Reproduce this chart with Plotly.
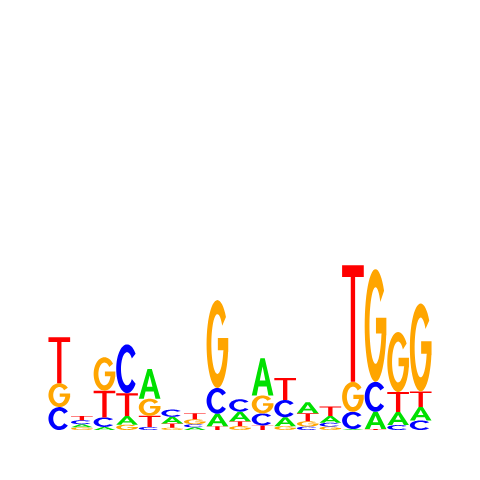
import math
import plotly.graph_objects as go

# ---- data (information content, bits) ----
positions = list(range(1, 18))
A_bits = [0.0, 0.016, 0.016, 0.045, 0.155, 0.035, 0.014, 0.065, 0.050, 0.195, 0.047, 0.057, 0.035, 0.005, 0.090, 0.068, 0.070]
C_bits = [0.120, 0.021, 0.050, 0.255, 0.016, 0.038, 0.016, 0.135, 0.065, 0.063, 0.090, 0.018, 0.020, 0.090, 0.157, 0.026, 0.050]
G_bits = [0.125, 0.014, 0.175, 0.028, 0.090, 0.012, 0.026, 0.460, 0.020, 0.094, 0.020, 0.028, 0.018, 0.157, 0.590, 0.314, 0.460]
T_bits = [0.240, 0.022, 0.140, 0.120, 0.058, 0.022, 0.032, 0.020, 0.026, 0.024, 0.115, 0.042, 0.050, 0.610, 0.005, 0.105, 0.082]

colors = {"A": "#00e000", "C": "#0000ff", "G": "#ffa500", "T": "#ff0000"}


# ---- glyph outlines in a unit box ----
def arc(cx, cy, rx, ry, a0, a1, n=48):
    pts = []
    for i in range(n + 1):
        a = math.radians(a0 + (a1 - a0) * i / n)
        pts.append((cx + rx * math.cos(a), cy + ry * math.sin(a)))
    return pts


def glyph(letter):
    if letter == "T":
        return [[(0, 1), (1, 1), (1, 0.90), (0.6, 0.90), (0.6, 0), (0.4, 0), (0.4, 0.90), (0, 0.90)]]
    if letter == "A":
        outer = [(0, 0), (0.40, 1), (0.60, 1), (1, 0), (0.77, 0), (0.69, 0.24), (0.31, 0.24), (0.23, 0)]
        hole = [(0.37, 0.40), (0.5, 0.78), (0.63, 0.40)]
        return [outer, hole]
    if letter == "C":
        outer = arc(0.5, 0.5, 0.5, 0.5, 38, 322)
        inner = arc(0.5, 0.5, 0.28, 0.34, 322, 38)
        return [outer + inner]
    if letter == "G":
        outer = arc(0.5, 0.5, 0.5, 0.5, 38, 350)
        bar = [(1.0, 0.413), (1.0, 0.57), (0.52, 0.57), (0.52, 0.43), (0.78, 0.43)]
        inner = arc(0.5, 0.5, 0.28, 0.34, 345, 38)
        return [outer + bar + inner]
    return []


def glyph_path(letter, x0, x1, y0, y1):
    parts = []
    for poly in glyph(letter):
        pts = [(x0 + (x1 - x0) * u, y0 + (y1 - y0) * v) for u, v in poly]
        s = "M " + " L ".join(f"{x:.5f},{y:.5f}" for x, y in pts) + " Z"
        parts.append(s)
    return " ".join(parts)


fig = go.Figure()
fig.add_trace(go.Scatter(x=positions, y=[0] * len(positions), mode="markers",
                         marker=dict(opacity=0), hoverinfo="skip", showlegend=False))

shapes = []
pad = 0.02
for i, p in enumerate(positions):
    col = {"A": A_bits[i], "C": C_bits[i], "G": G_bits[i], "T": T_bits[i]}
    base = 0.0
    for letter, h in sorted(col.items(), key=lambda kv: kv[1]):
        if h <= 0:
            continue
        shapes.append(dict(
            type="path", xref="x", yref="y",
            path=glyph_path(letter, p - 0.5 + pad, p + 0.5 - pad, base, base + h),
            fillcolor=colors[letter], fillrule="evenodd",
            line=dict(width=0), layer="above",
        ))
        base += h

fig.update_layout(
    width=480, height=480,
    margin=dict(l=40, r=56, t=40, b=58),
    paper_bgcolor="white", plot_bgcolor="white",
    xaxis=dict(range=[0.5, 17.5], visible=False, showgrid=False, zeroline=False),
    yaxis=dict(range=[0, 2], visible=False, showgrid=False, zeroline=False),
    shapes=shapes,
    showlegend=False,
)

fig.write_html("out.html")
